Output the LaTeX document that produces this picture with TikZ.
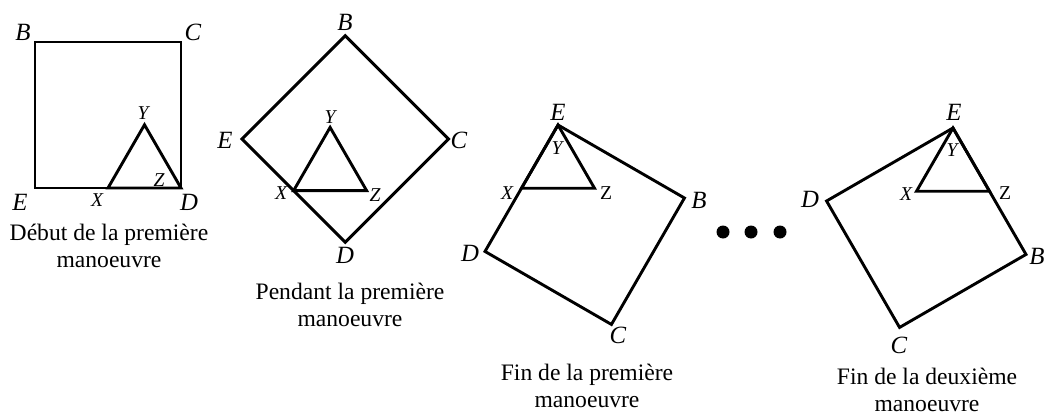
\documentclass[tikz,border=0pt]{standalone}
\usepackage{fontspec}
\setmainfont{Liberation Serif}
\usetikzlibrary{positioning, calc}

\begin{document}
\begin{tikzpicture}[x=0.5pt, y=0.5pt,
        dot/.style={circle,fill,inner sep=0pt,minimum size=6.5pt},
        side/.style={line width=1.45pt,line join=miter},
        big/.style={font=\fontsize{12.4}{14}\selectfont\itshape,inner sep=0pt},
        small/.style={font=\fontsize{9.8}{11}\selectfont\itshape,inner sep=0pt},
        smallup/.style={font=\fontsize{9.8}{11}\selectfont,inner sep=0pt},
        legende/.style={font=\fontsize{11.8}{13.5}\selectfont,align=center,inner sep=0pt}]

        % Frame of the picture
        \useasboundingbox (0,0) rectangle (1044,419);

        % Side of the square and of the triangle
        \pgfmathsetmacro{\side}{146}
        \pgfmathsetmacro{\half}{\side/2}

        % Squares E D C B, turned by \t
        \foreach \n/\ex/\ey/\t in {1/35/231/0, 2/242/280/-45, 3/558/294/-120, 4/953/291/-150} {
          \coordinate (E\n) at (\ex,\ey);
          \coordinate (D\n) at ($(E\n)+(\t:\side)$);
          \coordinate (B\n) at ($(E\n)+(\t+90:\side)$);
          \coordinate (C\n) at ($(D\n)+(\t+90:\side)$);
          \draw[side] (E\n) -- (D\n) -- (C\n) -- (B\n) -- cycle;
        }

        % Triangles X Y Z
        \coordinate (X1) at ($(E1)!0.5!(D1)$);
        \coordinate (Z1) at (D1);
        \coordinate (Y1) at ($(X1)+(60:\half)$);
        \coordinate (X2) at ($(E2)!0.5!(D2)$);
        \coordinate (Z2) at ($(X2)+(\half,0)$);
        \coordinate (Y2) at ($(X2)+(60:\half)$);
        \coordinate (Y3) at (E3);
        \coordinate (X3) at ($(E3)!0.5!(D3)$);
        \coordinate (Z3) at ($(X3)+(\half,0)$);
        \coordinate (Y4) at (E4);
        \coordinate (Z4) at ($(E4)!0.5!(B4)$);
        \coordinate (X4) at ($(Z4)-(\half,0)$);
        \foreach \n in {1,...,4} {
          \draw[side] (X\n) -- (Y\n) -- (Z\n) -- cycle;
        }

        % Labels
        % Debut
        \node[big] (lB1) at (23,387) {B};
        \node[big] (lC1) at (193,387) {C};
        \node[big] (lE1) at (20,217) {E};
        \node[big] (lD1) at (189,217) {D};
        \node[small] (lX1) at (97,219) {X};
        \node[small] (lY1) at (143,306) {Y};
        \node[small] (lZ1) at (159,239) {Z};
        % Pendant
        \node[big] (lB2) at (345,397) {B};
        \node[big] (lE2) at (225,279) {E};
        \node[big] (lC2) at (459,279) {C};
        \node[big] (lD2) at (345,164) {D};
        \node[small] (lX2) at (281,226) {X};
        \node[small] (lY2) at (330,302) {Y};
        \node[small] (lZ2) at (375,224) {Z};
        % Fin 1
        \node[big] (lE3) at (558,307) {E};
        \node[big] (lB3) at (699,219) {B};
        \node[big] (lD3) at (470,166) {D};
        \node[big] (lC3) at (618,84) {C};
        \node[small] (lX3) at (507,226) {X};
        \node[small] (lY3) at (557,271) {Y};
        \node[smallup] (lZ3) at (606,226) {Z};
        % Fin 2
        \node[big] (lE4) at (954,307) {E};
        \node[big] (lD4) at (810,220) {D};
        \node[big] (lB4) at (1037,163) {B};
        \node[big] (lC4) at (899,74) {C};
        \node[small] (lX4) at (906,225) {X};
        \node[small] (lY4) at (952,269) {Y};
        \node[smallup] (lZ4) at (1005,226) {Z};

        % Dots between the steps
        \foreach \x [count=\i] in {723,751,780} {
          \node[dot] (dot\i) at (\x,187) {};
        }

        % Captions
        \node[legende] (leg1) at (109,173) {Début de la première\\manoeuvre};
        \node[legende] (leg2) at (350,114) {Pendant la première\\manoeuvre};
        \node[legende] (leg3) at (587,33) {Fin de la première\\manoeuvre};
        \node[legende] (leg4) at (927,29) {Fin de la deuxième\\manoeuvre};
    \end{tikzpicture}
\end{document}
